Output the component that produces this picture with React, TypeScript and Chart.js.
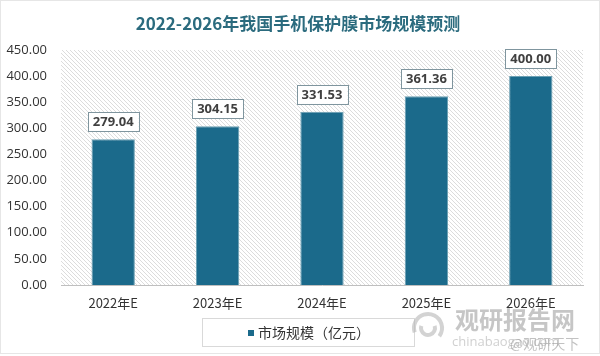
import React, { useEffect, useRef } from "react";
import { Chart, registerables } from "chart.js";

Chart.register(...registerables);

const categories = ["2022年E", "2023年E", "2024年E", "2025年E", "2026年E"];
const marketSize = [279.04, 304.15, 331.53, 361.36, 400.0];
const seriesName = "市场规模（亿元）";
const chartTitle = "2022-2026年我国手机保护膜市场规模预测";

const FONT = '"Open Sans", "Noto Sans CJK SC", sans-serif';
const CJK = '"Noto Sans CJK SC", "Open Sans", sans-serif';

function makeHatch(): CanvasPattern | string {
  const c = document.createElement("canvas");
  c.width = 4;
  c.height = 4;
  const g = c.getContext("2d");
  if (!g) return "#f0f0f0";
  g.fillStyle = "#ffffff";
  g.fillRect(0, 0, 4, 4);
  g.strokeStyle = "#dcdcdc";
  g.lineWidth = 1;
  g.beginPath();
  g.moveTo(-1, -1);
  g.lineTo(5, 5);
  g.moveTo(-1, 3);
  g.lineTo(1, 5);
  g.moveTo(3, -1);
  g.lineTo(5, 1);
  g.stroke();
  const p = g.createPattern(c, "repeat");
  return p || "#f0f0f0";
}

const hatchPlugin = {
  id: "hatchBg",
  beforeDatasetsDraw(chart: any) {
    const { ctx, chartArea } = chart;
    ctx.save();
    ctx.fillStyle = makeHatch();
    ctx.fillRect(chartArea.left, chartArea.top, chartArea.right - chartArea.left, chartArea.bottom - chartArea.top);
    ctx.restore();
  },
};

const labelPlugin = {
  id: "boxLabels",
  afterDatasetsDraw(chart: any) {
    const { ctx } = chart;
    const meta = chart.getDatasetMeta(0);
    ctx.save();
    ctx.font = `bold 13px ${FONT}`;
    meta.data.forEach((bar: any, i: number) => {
      const txt = marketSize[i].toFixed(2);
      const w = ctx.measureText(txt).width + 10;
      const h = 19;
      const x = bar.x - w / 2;
      const y = bar.y - 8 - h;
      ctx.fillStyle = "#ffffff";
      ctx.fillRect(x, y, w, h);
      ctx.strokeStyle = "#7f959e";
      ctx.lineWidth = 1;
      ctx.strokeRect(Math.round(x) + 0.5, Math.round(y) + 0.5, Math.round(w), h);
      ctx.fillStyle = "#404040";
      ctx.textAlign = "center";
      ctx.textBaseline = "middle";
      ctx.fillText(txt, bar.x, y + h / 2 + 0.5);
    });
    ctx.restore();
  },
};

const decoPlugin = {
  id: "deco",
  afterDraw(chart: any) {
    const { ctx } = chart;
    ctx.save();
    // title
    ctx.font = `bold 17px ${CJK}`;
    ctx.fillStyle = "#2b6b7e";
    ctx.textAlign = "center";
    ctx.textBaseline = "middle";
    ctx.fillText(chartTitle, 298, 24);

    // legend box
    ctx.strokeStyle = "#d9d9d9";
    ctx.lineWidth = 1;
    ctx.strokeRect(202.5, 318.5, 212, 28);
    ctx.fillStyle = "#1b6a8b";
    ctx.fillRect(248, 330, 6, 6);
    ctx.font = `14px ${CJK}`;
    ctx.fillStyle = "#333333";
    ctx.textAlign = "left";
    ctx.fillText(seriesName, 258, 333);

    // watermark
    ctx.globalAlpha = 0.6;
    ctx.strokeStyle = "#b5b5b5";
    ctx.lineWidth = 4;
    ctx.beginPath();
    ctx.arc(428, 328, 14, Math.PI * 0.9, Math.PI * 2.2);
    ctx.stroke();
    ctx.beginPath();
    ctx.arc(428, 328, 7, Math.PI * 1.9, Math.PI * 3.1);
    ctx.stroke();
    ctx.font = `bold 24px ${CJK}`;
    ctx.fillStyle = "#a0a0a0";
    ctx.fillText("观研报告网", 455, 320);
    ctx.font = `13px ${FONT}`;
    ctx.fillStyle = "#b0b0b0";
    ctx.fillText("chinabaogao.com", 452, 342);
    ctx.font = `14px ${CJK}`;
    ctx.fillStyle = "#9a9a9a";
    ctx.fillText("@观研天下", 510, 344);
    ctx.restore();

    // outer faint frame
    ctx.save();
    ctx.strokeStyle = "#e6e6e6";
    ctx.lineWidth = 1;
    ctx.strokeRect(0.5, 0.5, 599, 353);
    ctx.restore();
  },
};

export default function App() {
  const ref = useRef<HTMLCanvasElement | null>(null);

  useEffect(() => {
    document.body.style.margin = "0";
    const canvas = ref.current;
    if (!canvas) return;
    const chart = new Chart(canvas, {
      type: "bar",
      data: {
        labels: categories,
        datasets: [
          {
            label: seriesName,
            data: marketSize,
            backgroundColor: "#1b6a8b",
            borderColor: "#6a9fb3",
            borderWidth: 1,
            categoryPercentage: 1,
            barPercentage: 0.415,
          },
        ],
      },
      options: {
        animation: false,
        responsive: false,
        maintainAspectRatio: false,
        devicePixelRatio: 1,
        layout: { padding: { top: 50, right: 17, bottom: 0, left: 0 } },
        plugins: {
          legend: { display: false },
          title: { display: false },
          tooltip: { enabled: false },
        },
        scales: {
          x: {
            grid: { display: false, drawTicks: false },
            border: { display: true, color: "#bfbfbf" },
            ticks: { font: { family: CJK, size: 13 }, color: "#333333", padding: 10 },
            afterFit(scale: any) {
              scale.height = 71;
            },
          },
          y: {
            min: 0,
            max: 450,
            grid: { display: false, drawTicks: false },
            border: { display: false },
            ticks: {
              stepSize: 50,
              font: { family: FONT, size: 13 },
              color: "#333333",
              padding: 14,
              callback: (v: any) => Number(v).toFixed(2),
            },
            afterFit(scale: any) {
              scale.width = 61;
            },
          },
        },
      },
      plugins: [hatchPlugin, labelPlugin, decoPlugin],
    });
    return () => chart.destroy();
  }, []);

  return (
    <div style={{ position: "fixed", left: 0, top: 0, width: 600, height: 356, background: "#ffffff" }}>
      <canvas ref={ref} width={600} height={356} style={{ width: 600, height: 356, display: "block" }} />
    </div>
  );
}
